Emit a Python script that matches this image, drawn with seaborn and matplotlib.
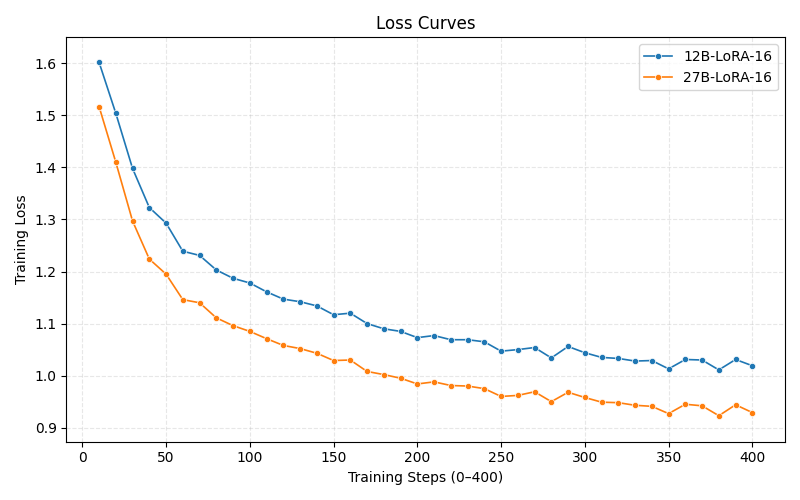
import numpy as np
import pandas as pd
import matplotlib
matplotlib.use('Agg')
import matplotlib.pyplot as plt
import seaborn as sns

# --- Data ---
steps = list(range(10, 401, 10))

loss_12b = [1.602, 1.504, 1.398, 1.323, 1.293, 1.239, 1.231, 1.203, 1.187, 1.178,
            1.161, 1.147, 1.142, 1.134, 1.117, 1.120, 1.100, 1.090, 1.085, 1.073,
            1.077, 1.069, 1.069, 1.065, 1.047, 1.050, 1.054, 1.034, 1.056, 1.044,
            1.035, 1.033, 1.028, 1.029, 1.013, 1.031, 1.030, 1.011, 1.031, 1.019]

loss_27b = [1.517, 1.410, 1.297, 1.224, 1.195, 1.146, 1.140, 1.111, 1.096, 1.085,
            1.071, 1.058, 1.052, 1.043, 1.029, 1.030, 1.008, 1.002, 0.995, 0.984,
            0.988, 0.981, 0.980, 0.975, 0.960, 0.962, 0.969, 0.950, 0.968, 0.958,
            0.949, 0.948, 0.943, 0.941, 0.927, 0.945, 0.942, 0.923, 0.944, 0.929]

series_names = ['12B-LoRA-16', '27B-LoRA-16']

df = pd.concat([
    pd.DataFrame({'step': steps, 'loss': loss_12b, 'run': series_names[0]}),
    pd.DataFrame({'step': steps, 'loss': loss_27b, 'run': series_names[1]}),
])

fig, ax = plt.subplots(figsize=(8, 5), dpi=100)
sns.lineplot(data=df, x='step', y='loss', hue='run', marker='o',
             markersize=4.5, markeredgewidth=0.5, linewidth=1.2,
             palette=['#1f77b4', '#ff7f0e'], ax=ax)

ax.set_title('Loss Curves')
ax.set_xlabel('Training Steps (0\u2013400)')
ax.set_ylabel('Training Loss')
ax.set_ylim(0.873, 1.65)
ax.grid(True, linestyle='--', alpha=0.3)
ax.legend(title=None, loc='upper right')

plt.tight_layout()
plt.savefig('out.png', dpi=100)
plt.close()
